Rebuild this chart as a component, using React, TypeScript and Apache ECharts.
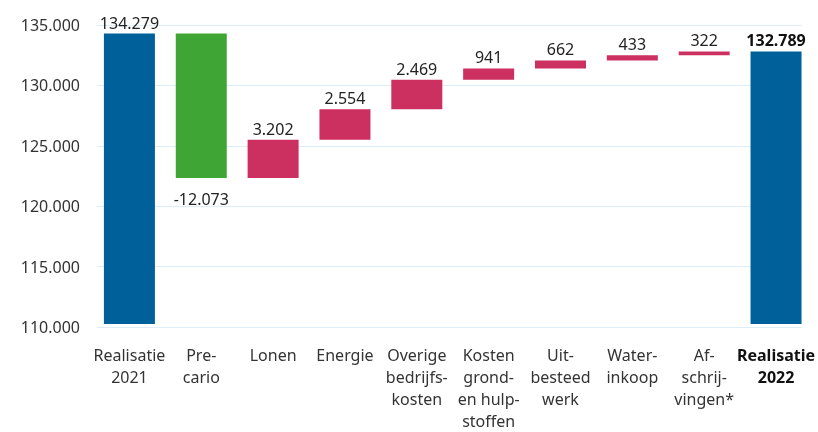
import React, { useEffect, useRef } from "react";
import * as echarts from "echarts";

const categories = [
  "Realisatie\n2021",
  "Pre-\ncario",
  "Lonen",
  "Energie",
  "Overige\nbedrijfs-\nkosten",
  "Kosten\ngrond-\nen hulp-\nstoffen",
  "Uit-\nbesteed\nwerk",
  "Water-\ninkoop",
  "Af-\nschrij-\nvingen*",
  "Realisatie\n2022",
];
const startTotal = 134279;
const deltas = [-12073, 3202, 2554, 2469, 941, 662, 433, 322];
const yTicks = { min: 110000, max: 135000, interval: 5000 };

const BLUE = "#00609a";
const GREEN = "#3fa535";
const PINK = "#cc3060";
const FONT = "Noto Sans";
const FS = 16;

function fmt(n: number): string {
  const s = Math.abs(Math.round(n)).toString().replace(/\B(?=(\d{3})+(?!\d))/g, ".");
  return (n < 0 ? "-" : "") + s;
}

export default function App() {
  const ref = useRef<HTMLDivElement>(null);
  useEffect(() => {
    if (!ref.current) return;
    const chart = echarts.init(ref.current, undefined, { renderer: "svg" });

    const baseData: number[] = [];
    const visData: any[] = [];
    baseData.push(0);
    visData.push({
      value: startTotal,
      itemStyle: { color: BLUE },
      label: { position: "top", formatter: fmt(startTotal) },
    });
    let cur = startTotal;
    deltas.forEach((d) => {
      const next = cur + d;
      baseData.push(Math.min(cur, next));
      visData.push({
        value: Math.abs(d),
        itemStyle: { color: d < 0 ? GREEN : PINK },
        label: {
          position: d < 0 ? "bottom" : "top",
          distance: d < 0 ? 13 : 3,
          formatter: fmt(d),
        },
      });
      cur = next;
    });
    baseData.push(0);
    visData.push({
      value: cur,
      itemStyle: { color: BLUE },
      label: { position: "top", formatter: fmt(cur), fontWeight: "bold", color: "#111" },
    });

    const top = 25;
    const height = 302;

    chart.setOption({
      animation: false,
      grid: [
        { left: 97, width: 705, top, height },
        { left: 93.5, width: 720, top, height },
      ],
      xAxis: [
        { type: "category", gridIndex: 0, data: categories, show: false },
        {
          type: "category",
          gridIndex: 1,
          data: categories,
          axisLine: { show: false },
          axisTick: { show: false },
          axisLabel: {
            interval: 0,
            margin: 20,
            fontFamily: FONT,
            fontSize: FS,
            lineHeight: 22,
            color: "#333",
            align: "center",
            formatter: (v: string, i: number) =>
              i === categories.length - 1 ? "{b|" + v.split("\n").join("}\n{b|") + "}" : v,
            rich: {
              b: { fontWeight: "bold", fontFamily: FONT, fontSize: FS, lineHeight: 22, color: "#111" },
            },
          },
        },
      ],
      yAxis: [
        {
          type: "value",
          gridIndex: 0,
          min: yTicks.min,
          max: yTicks.max,
          interval: yTicks.interval,
          axisLine: { show: false },
          axisTick: { show: false },
          splitLine: { lineStyle: { color: "#ddedf9", width: 1 } },
          axisLabel: {
            margin: 17,
            fontFamily: FONT,
            fontSize: FS,
            color: "#333",
            formatter: (v: number) => fmt(v),
          },
        },
        {
          type: "value",
          gridIndex: 1,
          min: yTicks.min,
          max: yTicks.max,
          interval: yTicks.interval,
          show: false,
          splitLine: { show: false },
        },
      ],
      series: [
        {
          type: "bar",
          xAxisIndex: 1,
          yAxisIndex: 1,
          stack: "w",
          barWidth: 51,
          data: baseData,
          itemStyle: { color: "transparent" },
          silent: true,
        },
        {
          type: "bar",
          xAxisIndex: 1,
          yAxisIndex: 1,
          stack: "w",
          barWidth: 51,
          data: visData,
          label: {
            show: true,
            fontFamily: FONT,
            fontSize: FS,
            color: "#222",
            distance: 3,
          },
        },
      ],
    });
    return () => chart.dispose();
  }, []);
  return (
    <div
      ref={ref}
      style={{ position: "fixed", left: 0, top: 0, width: 818, height: 432 }}
    />
  );
}
